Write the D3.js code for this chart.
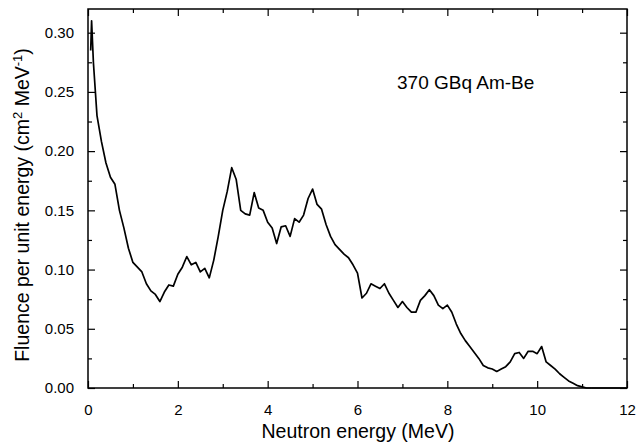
<!DOCTYPE html>
<html>
<head>
<meta charset="utf-8">
<script src="https://cdn.jsdelivr.net/npm/d3@7"></script>
<style>
  html, body { margin: 0; padding: 0; background: #fff; }
  svg { display: block; font-family: "Liberation Sans", Arial, Helvetica, sans-serif; }
</style>
</head>
<body>
<svg id="chart" width="636" height="446"></svg>
<script>
// Neutron energy (MeV), mostly 0.1 MeV steps
const energies = [
  0.06,0.08,0.12,0.2,0.3,0.4,0.5,0.6,0.7,0.8,0.9,
  1.0,1.1,1.2,1.3,1.4,1.5,1.6,1.7,1.8,1.9,
  2.0,2.1,2.2,2.3,2.4,2.5,2.6,2.7,2.8,2.9,
  3.0,3.1,3.2,3.3,3.4,3.5,3.6,3.7,3.8,3.9,
  4.0,4.1,4.2,4.3,4.4,4.5,4.6,4.7,4.8,4.9,
  5.0,5.1,5.2,5.3,5.4,5.5,5.6,5.7,5.8,5.9,
  6.0,6.1,6.2,6.3,6.4,6.5,6.6,6.7,6.8,6.9,
  7.0,7.1,7.2,7.3,7.4,7.5,7.6,7.7,7.8,7.9,
  8.0,8.1,8.2,8.3,8.4,8.5,8.6,8.7,8.8,8.9,
  9.0,9.1,9.2,9.3,9.4,9.5,9.6,9.7,9.8,9.9,
  10.0,10.1,10.2,10.3,10.4,10.5,10.6,10.7,10.8,10.9,
  11.0,11.1,11.2
];
// Fluence per unit energy (cm^2 MeV^-1)
const fluence = [
  0.285,0.310,0.275,0.230,0.208,0.190,0.178,0.172,0.150,0.135,0.118,
  0.106,0.102,0.098,0.088,0.082,0.079,0.073,0.081,0.087,0.086,
  0.096,0.102,0.111,0.104,0.106,0.098,0.101,0.093,0.108,0.128,
  0.150,0.166,0.186,0.176,0.150,0.147,0.146,0.165,0.152,0.150,
  0.140,0.135,0.122,0.136,0.137,0.128,0.143,0.140,0.146,0.160,
  0.168,0.155,0.151,0.138,0.128,0.121,0.117,0.113,0.110,0.104,
  0.097,0.076,0.080,0.088,0.086,0.084,0.088,0.080,0.074,0.068,
  0.073,0.068,0.064,0.064,0.074,0.078,0.083,0.078,0.070,0.067,
  0.070,0.064,0.054,0.046,0.040,0.035,0.030,0.025,0.019,0.017,
  0.016,0.014,0.016,0.018,0.022,0.029,0.030,0.025,0.031,0.031,
  0.029,0.035,0.022,0.019,0.016,0.012,0.009,0.006,0.004,0.002,
  0.001,0.000,0.000
];
const xTickValues = [0, 2, 4, 6, 8, 10, 12];
const xMinorTicks = [1, 3, 5, 7, 9, 11];
const yTickValues = [0.00, 0.05, 0.10, 0.15, 0.20, 0.25, 0.30];
const yMinorTicks = [0.025, 0.075, 0.125, 0.175, 0.225, 0.275];
const xTitle = "Neutron energy (MeV)";
const annotation = "370 GBq Am-Be";

const svg = d3.select("#chart");
const m = { left: 88, right: 9, top: 9, bottom: 58 };
const W = 636, H = 446;
const x = d3.scaleLinear().domain([0, 12]).range([m.left, W - m.right]);
const y = d3.scaleLinear().domain([0, 0.32]).range([H - m.bottom, m.top]);

const data = energies.map((e, i) => ({ e, v: fluence[i] }));

// frame
svg.append("rect")
  .attr("x", x(0)).attr("y", y(0.32))
  .attr("width", x(12) - x(0)).attr("height", y(0) - y(0.32))
  .attr("fill", "none").attr("stroke", "#000").attr("stroke-width", 1.5);

// axes with inward ticks
const fmtY = d3.format(".2f");
const gBottom = svg.append("g").attr("transform", `translate(0,${y(0)})`)
  .call(d3.axisBottom(x).tickValues(xTickValues).tickSize(-7).tickPadding(16).tickFormat(d3.format("d")));
const gBottomMinor = svg.append("g").attr("transform", `translate(0,${y(0)})`)
  .call(d3.axisBottom(x).tickValues(xMinorTicks).tickSize(-4).tickFormat(""));
const gTop = svg.append("g").attr("transform", `translate(0,${y(0.32)})`)
  .call(d3.axisTop(x).tickValues(xTickValues).tickSize(-7).tickFormat(""));
const gTopMinor = svg.append("g").attr("transform", `translate(0,${y(0.32)})`)
  .call(d3.axisTop(x).tickValues(xMinorTicks).tickSize(-4).tickFormat(""));
const gLeft = svg.append("g").attr("transform", `translate(${x(0)},0)`)
  .call(d3.axisLeft(y).tickValues(yTickValues).tickSize(-7).tickPadding(14).tickFormat(fmtY));
const gLeftMinor = svg.append("g").attr("transform", `translate(${x(0)},0)`)
  .call(d3.axisLeft(y).tickValues(yMinorTicks).tickSize(-4).tickFormat(""));
const gRight = svg.append("g").attr("transform", `translate(${x(12)},0)`)
  .call(d3.axisRight(y).tickValues(yTickValues).tickSize(-7).tickFormat(""));
const gRightMinor = svg.append("g").attr("transform", `translate(${x(12)},0)`)
  .call(d3.axisRight(y).tickValues(yMinorTicks).tickSize(-4).tickFormat(""));

[gBottom, gBottomMinor, gTop, gTopMinor, gLeft, gLeftMinor, gRight, gRightMinor].forEach(g => {
  g.select(".domain").remove();
  g.selectAll("line").attr("stroke", "#000").attr("stroke-width", 1.2);
  g.selectAll("text").attr("fill", "#000").attr("font-size", 15)
    .attr("font-family", "'Liberation Sans', Arial, sans-serif");
});

// spectrum line
const line = d3.line().x(d => x(d.e)).y(d => y(d.v)).curve(d3.curveLinear);
svg.append("path").datum(data)
  .attr("d", line)
  .attr("fill", "none").attr("stroke", "#000").attr("stroke-width", 1.7)
  .attr("stroke-linejoin", "round");

// baseline to end of axis
svg.append("line")
  .attr("x1", x(11.2)).attr("x2", x(12)).attr("y1", y(0)).attr("y2", y(0))
  .attr("stroke", "#000").attr("stroke-width", 1.5);

// annotation
svg.append("text").attr("x", 397).attr("y", 89)
  .attr("font-size", 19).attr("fill", "#000").text(annotation);

// x title
svg.append("text").attr("x", 358).attr("y", 438)
  .attr("text-anchor", "middle").attr("font-size", 19.5).attr("fill", "#000").text(xTitle);

// y title with superscripts
const yt = svg.append("text")
  .attr("transform", `translate(29,205) rotate(-90)`)
  .attr("text-anchor", "middle").attr("font-size", 19.5).attr("fill", "#000");
yt.append("tspan").text("Fluence per unit energy (cm");
yt.append("tspan").attr("baseline-shift", "super").attr("font-size", 13).text("2");
yt.append("tspan").text(" MeV");
yt.append("tspan").attr("baseline-shift", "super").attr("font-size", 13).text("-1");
yt.append("tspan").text(")");
</script>
</body>
</html>
